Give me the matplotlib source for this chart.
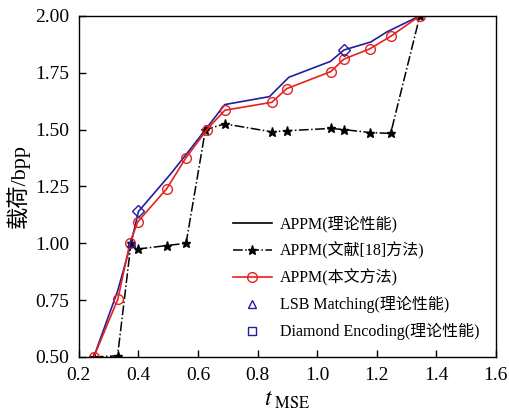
import numpy as np
import matplotlib.pyplot as plt
from matplotlib.lines import Line2D

plt.rcParams['font.family'] = ['Liberation Serif', 'Noto Sans CJK SC']
plt.rcParams['mathtext.fontset'] = 'stix'

# APPM theory
t_theory = [0.25, 0.33, 0.375, 0.40, 0.505, 0.56, 0.625, 0.69, 0.84, 0.905, 1.045, 1.09, 1.18, 1.235, 1.345]
p_theory = [0.50, 0.79, 1.00, 1.14, 1.30, 1.39, 1.50, 1.61, 1.645, 1.73, 1.80, 1.85, 1.885, 1.93, 2.00]

# APPM (ref [18])
t_ref = [0.25, 0.33, 0.375, 0.40, 0.495, 0.56, 0.625, 0.69, 0.848, 0.898, 1.046, 1.09, 1.177, 1.247, 1.345]
p_ref = [0.50, 0.505, 1.00, 0.975, 0.99, 1.00, 1.50, 1.525, 1.49, 1.495, 1.505, 1.50, 1.487, 1.483, 2.00]

# APPM (proposed)
t_ours = [0.25, 0.331, 0.371, 0.398, 0.495, 0.559, 0.63, 0.69, 0.848, 0.898, 1.046, 1.09, 1.177, 1.247, 1.345]
p_ours = [0.50, 0.755, 1.00, 1.095, 1.24, 1.375, 1.50, 1.585, 1.62, 1.68, 1.755, 1.81, 1.855, 1.91, 2.00]

# single-point methods
t_lsb = [0.375]
p_lsb = [1.00]
t_de = [0.40, 1.09]
p_de = [1.14, 1.85]

blue = '#1f1f9e'
red = '#e8201e'

fig = plt.figure(figsize=(5.09, 4.18), dpi=100)
ax = fig.add_axes([0.155, 0.146, 0.819, 0.816])

ax.plot(t_theory, p_theory, '-', color=blue, lw=1.2)
ax.plot(t_ref, p_ref, '-.', color='black', lw=1.1, marker='*', ms=6.5)
ax.plot(t_ours, p_ours, '-', color=red, lw=1.2, marker='o', ms=7, mfc='none', mec=red, mew=1.0)
ax.plot(t_lsb, p_lsb, '^', color=blue, ms=6, mfc='none', mew=1.0)
ax.plot(t_de, p_de, 'D', color=blue, ms=6.5, mfc='none', mew=1.0)

handles = [
    Line2D([], [], color='black', lw=1.2),
    Line2D([], [], color='black', lw=1.1, ls='-.', marker='*', ms=6.5),
    Line2D([], [], color=red, lw=1.2, marker='o', ms=7, mfc='none', mew=1.0),
    Line2D([], [], color=blue, ls='none', marker='^', ms=6, mfc='none', mew=1.0),
    Line2D([], [], color=blue, ls='none', marker='s', ms=6, mfc='none', mew=1.0),
]
labels = ['APPM(理论性能)', 'APPM(文献[18]方法)', 'APPM(本文方法)',
          'LSB Matching(理论性能)', 'Diamond Encoding(理论性能)']
ax.legend(handles, labels, loc='upper left', bbox_to_anchor=(0.355, 0.433),
          frameon=False, fontsize=11.5, handlelength=2.4, handletextpad=0.5,
          labelspacing=0.6, borderaxespad=0)

ax.set_xlim(0.2, 1.6)
ax.set_ylim(0.5, 2.0)
ax.set_xticks(np.arange(0.2, 1.61, 0.2))
ax.set_yticks(np.arange(0.5, 2.01, 0.25))
ax.xaxis.set_major_formatter(plt.FormatStrFormatter('%.1f'))
ax.yaxis.set_major_formatter(plt.FormatStrFormatter('%.2f'))
ax.tick_params(direction='in', labelsize=14, length=5, width=1, pad=7)
for s in ax.spines.values():
    s.set_linewidth(1.0)

ax.set_xlabel(r'$t_{\ \mathrm{MSE}}$', fontsize=17, labelpad=4)
ax.set_ylabel('载荷/bpp', fontsize=16, labelpad=4)

fig.savefig('out.png', dpi=100)
